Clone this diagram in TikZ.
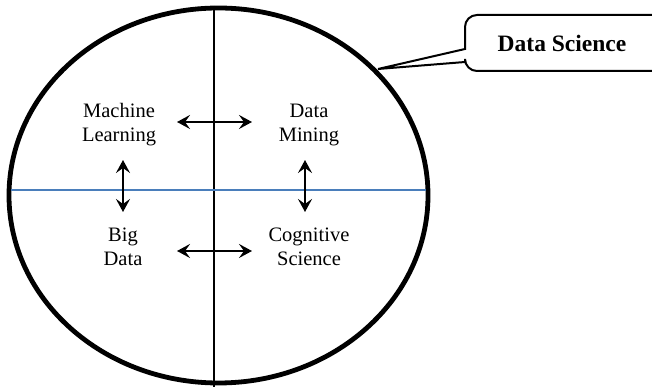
\documentclass[tikz,border=0pt]{standalone}
\usepackage{fontspec}
\setmainfont{Liberation Serif}
\usetikzlibrary{arrows.meta}
\begin{document}
\begin{tikzpicture}[x=1pt,y=1pt,
  lbl/.style={align=center,font=\fontsize{20.5}{24}\selectfont,inner sep=0pt},
  biarrow/.style={line width=1.9pt,{Stealth[length=13pt,width=14pt,inset=5pt]}-{Stealth[length=13pt,width=14pt,inset=5pt]}},
  callout/.style={line width=2pt,fill=white,line join=miter}]
\path[use as bounding box] (0,0) rectangle (652,387);
\clip (0,0) rectangle (652,387);
% main ellipse
\draw[line width=4.8pt] (218.5,191.5) ellipse [x radius=209.5, y radius=187.5];
% axes
\coordinate (vtop) at (214,381);
\coordinate (vbot) at (214,0);
\draw[line width=1.8pt] (vtop) -- (vbot);
\coordinate (hl) at (11,197);
\coordinate (hr) at (426,197);
\draw[line width=1.8pt,color={rgb,255:red,74;green,126;blue,187}] (hl) -- (hr);
% labels
\node[lbl] (ml) at (119,262) {Machine\\Learning};
\node[lbl] (dm) at (309,262) {Data\\Mining};
\node[lbl] (bd) at (123,140) {Big\\Data};
\node[lbl] (cs) at (309,140) {Cognitive\\Science};
% arrow ends
\coordinate (a1) at (177,265); \coordinate (a2) at (252,265);
\coordinate (b1) at (177,136); \coordinate (b2) at (252,136);
\coordinate (c1) at (123,227); \coordinate (c2) at (123,175);
\coordinate (d1) at (305,227); \coordinate (d2) at (305,175);
\draw[biarrow] (a1) -- (a2);
\draw[biarrow] (b1) -- (b2);
\draw[biarrow] (c1) -- (c2);
\draw[biarrow] (d1) -- (d2);
% callout
\coordinate (tip) at (378,318);
\draw[callout] (465,338) -- (465,360) arc[start angle=180,end angle=90,radius=12]
  -- (690,372) -- (690,316) -- (477,316) arc[start angle=270,end angle=180,radius=12]
  -- (465,325) -- (tip) -- cycle;
\node[font=\fontsize{23.5}{28}\selectfont\bfseries,inner sep=0pt] (ds) at (562,344) {Data Science};
\end{tikzpicture}
\end{document}
